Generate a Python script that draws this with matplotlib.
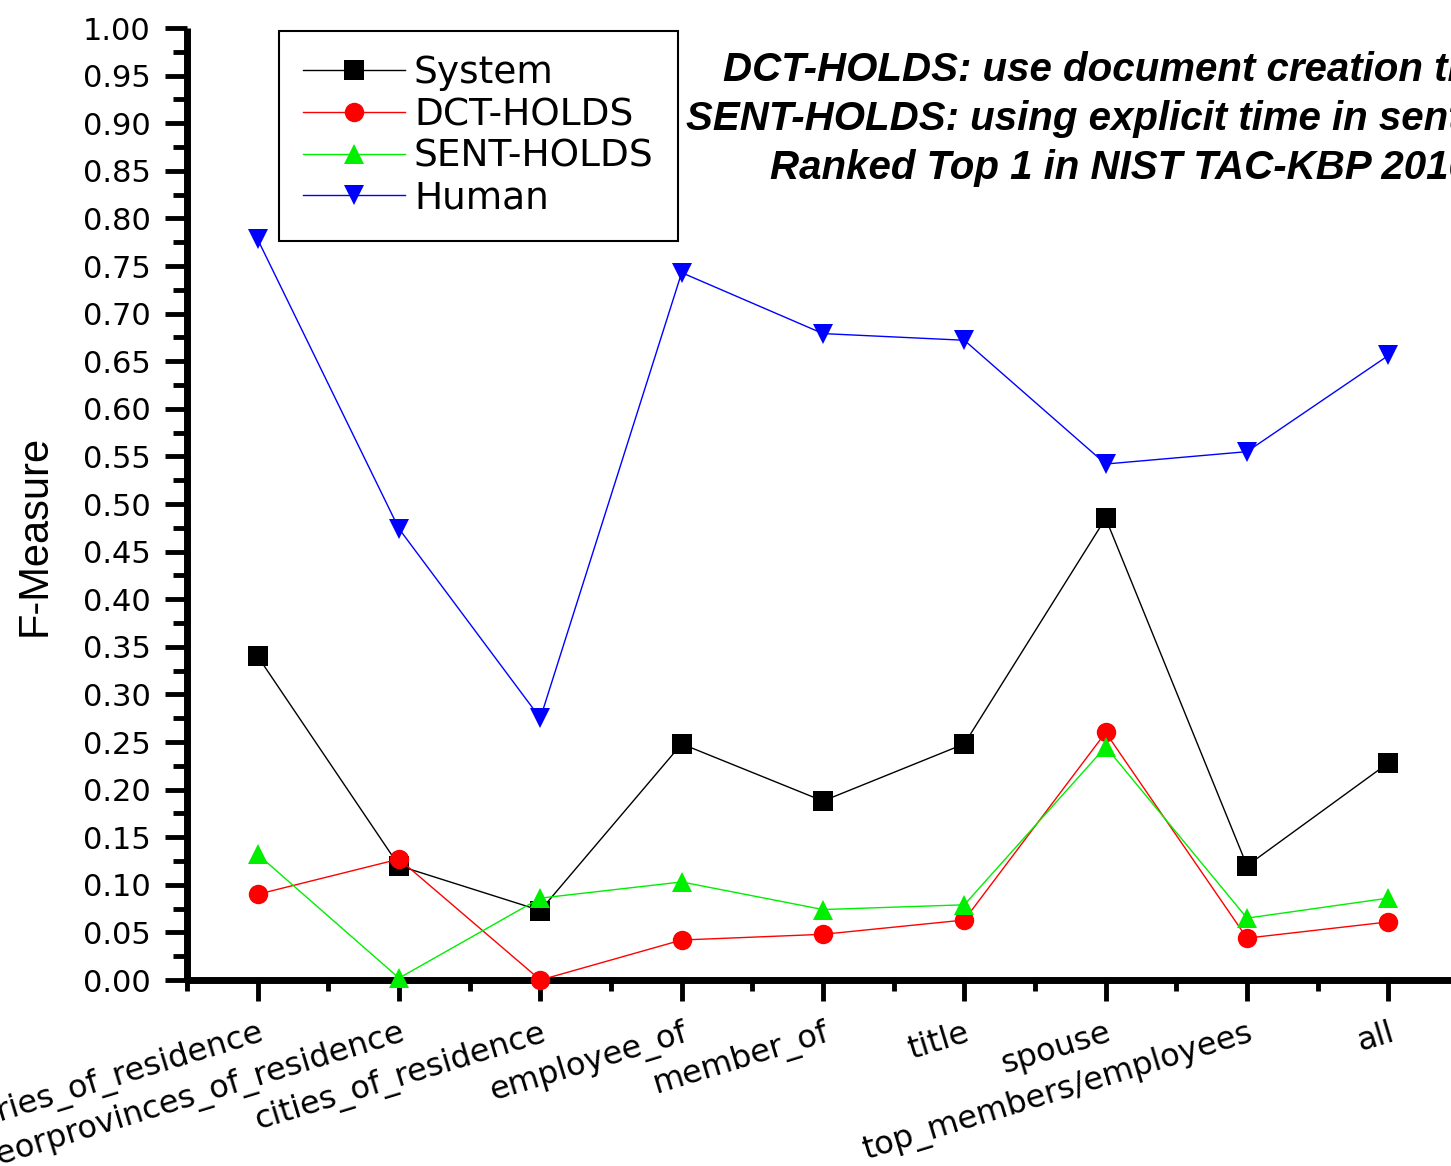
import matplotlib
matplotlib.use("Agg")
import matplotlib.pyplot as plt
from matplotlib.ticker import MultipleLocator, FixedLocator

# Relation types evaluated
categories = [
    "countries_of_residence",
    "stateorprovinces_of_residence",
    "cities_of_residence",
    "employee_of",
    "member_of",
    "title",
    "spouse",
    "top_members/employees",
    "all",
]

# F-measure per relation type
system = [0.340, 0.120, 0.073, 0.248, 0.188, 0.248, 0.485, 0.120, 0.228]
dct_holds = [0.090, 0.127, 0.000, 0.042, 0.048, 0.063, 0.260, 0.044, 0.061]
sent_holds = [0.132, 0.002, 0.086, 0.103, 0.074, 0.079, 0.245, 0.065, 0.086]
human = [0.778, 0.474, 0.275, 0.743, 0.679, 0.672, 0.542, 0.555, 0.656]

series = [
    ("System", system, "black", "s"),
    ("DCT-HOLDS", dct_holds, "#ff0000", "o"),
    ("SENT-HOLDS", sent_holds, "#00ee00", "^"),
    ("Human", human, "#0000ff", "v"),
]

W, H = 1451, 1166
fig = plt.figure(figsize=(W / 100, H / 100), dpi=100)
fig.patch.set_facecolor("white")

left, right = 187 / W, 1459 / W
bottom, top = 1 - 980 / H, 1 - 28 / H
ax = fig.add_axes([left, bottom, right - left, top - bottom])

x = list(range(len(categories)))
for name, vals, color, marker in series:
    ax.plot(x, vals, color=color, lw=1.0, marker=marker, ms=14,
            mfc=color, mec=color, mew=0, label=name,
            clip_on=False, zorder=3)

ax.set_xlim(-0.5, len(categories) - 0.5)
ax.set_ylim(0, 1.0)

ax.spines["top"].set_visible(False)
ax.spines["right"].set_visible(False)
for side in ("left", "bottom"):
    ax.spines[side].set_linewidth(5)
    ax.spines[side].set_capstyle("butt")

ax.yaxis.set_major_locator(MultipleLocator(0.05))
ax.yaxis.set_minor_locator(MultipleLocator(0.025))
ax.xaxis.set_major_locator(FixedLocator(x))
ax.xaxis.set_minor_locator(MultipleLocator(0.5))

ax.set_yticklabels([f"{v:.2f}" for v in ax.get_yticks()])
ax.tick_params(axis="y", which="major", direction="out", length=16, width=3.5,
               labelsize=22, pad=10)
ax.tick_params(axis="y", which="minor", direction="out", length=10, width=3.5)
ax.tick_params(axis="x", which="major", direction="out", length=15, width=3.5,
               pad=12)
ax.tick_params(axis="x", which="minor", direction="out", length=8, width=3.5)
for lab in ax.get_yticklabels():
    lab.set_family("DejaVu Sans")

ax.set_xticklabels(categories, rotation=17, ha="right", va="top",
                   rotation_mode="anchor", fontsize=23, family="DejaVu Sans")

ax.set_ylabel("F-Measure", fontsize=30, family="Liberation Sans")
ax.yaxis.set_label_coords((55 - 187) / (1459 - 187), (980 - 535) / (980 - 28))

leg = ax.legend(loc="upper left", bbox_to_anchor=(279 / W, 1 - 31 / H),
                bbox_transform=fig.transFigure, borderaxespad=0,
                frameon=True, fancybox=False, framealpha=1,
                edgecolor="black", prop={"family": "DejaVu Sans", "size": 27},
                handlelength=2.7, handletextpad=0.25, labelspacing=0.15,
                borderpad=0.65)
leg.get_frame().set_linewidth(1.5)

note = ("DCT-HOLDS: use document creation time\n"
        "SENT-HOLDS: using explicit time in sentence\n"
        "Ranked Top 1 in NIST TAC-KBP 2010")
fig.text(1120 / W, 1 - 119 / H, note, ha="center", va="center",
         multialignment="center", fontsize=29, fontweight="bold",
         fontstyle="italic", family="Liberation Sans", linespacing=1.38)

fig.savefig("out.png", dpi=100, facecolor="white")
